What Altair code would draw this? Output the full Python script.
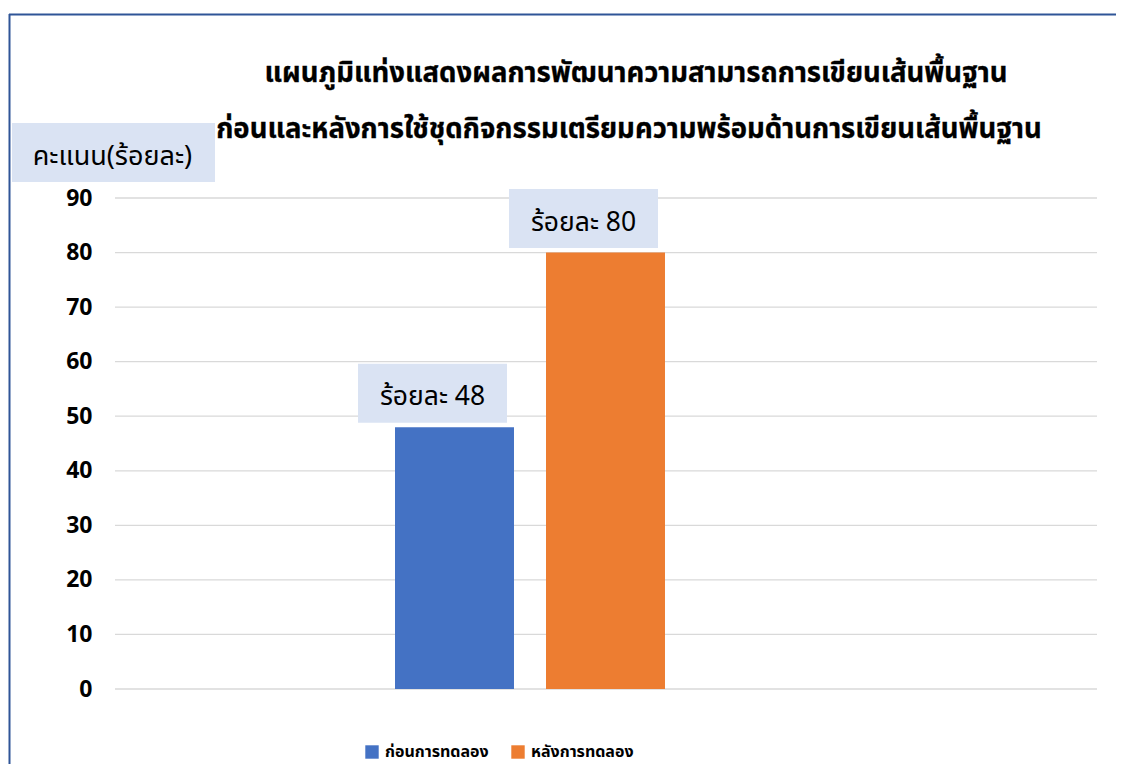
import altair as alt
import pandas as pd

categories = ["ก่อนการทดลอง", "หลังการทดลอง"]
scores = [48, 80]
value_labels = ["ร้อยละ 48", "ร้อยละ 80"]
colors = ["#4472C4", "#ED7D31"]
title_line1 = "แผนภูมิแท่งแสดงผลการพัฒนาความสามารถการเขียนเส้นพื้นฐาน"
title_line2 = "ก่อนและหลังการใช้ชุดกิจกรรมเตรียมความพร้อมด้านการเขียนเส้นพื้นฐาน"
y_title = "คะแนน(ร้อยละ)"
y_ticks = [0, 10, 20, 30, 40, 50, 60, 70, 80, 90]

FONT = "Tahoma, Leelawadee UI, Noto Sans Thai, Noto Sans Thai UI, Loma, Garuda, sans-serif"
NUMFONT = "Noto Sans, DejaVu Sans, sans-serif"
W, H = 982, 491
BOX = "#DAE3F3"

df = pd.DataFrame({"cat": categories, "score": scores, "label": value_labels})
grid_df = pd.DataFrame({"tick": y_ticks})
one = pd.DataFrame({"t": [y_title]})
t1 = pd.DataFrame({"t": [title_line1]})
t2 = pd.DataFrame({"t": [title_line2]})

xscale = alt.Scale(domain=categories, range=[264, 566], paddingInner=0.212, paddingOuter=0.106)
yscale = alt.Scale(domain=[0, 90], nice=False)
yaxis = alt.Axis(
    values=y_ticks,
    title=None,
    grid=False,
    domain=False,
    ticks=False,
    labelPadding=23,
    labelFont=NUMFONT,
    labelFontSize=23,
    labelFontWeight="bold",
    labelColor="#000000",
)

gridlines = alt.Chart(grid_df).mark_rule(color="#D9D9D9", strokeWidth=1.3).encode(
    y=alt.Y("tick:Q", scale=yscale, axis=yaxis),
    x=alt.value(0),
    x2=alt.value(W),
)

base = alt.Chart(df)

bars = base.mark_bar().encode(
    x=alt.X("cat:N", scale=xscale, axis=None, sort=categories),
    y=alt.Y("score:Q", scale=yscale, axis=yaxis),
    color=alt.Color(
        "cat:N",
        scale=alt.Scale(domain=categories, range=colors),
        sort=categories,
        legend=alt.Legend(
            title=None,
            orient="none",
            legendX=249,
            legendY=546,
            direction="horizontal",
            symbolType="square",
            symbolSize=180,
            symbolStrokeWidth=0,
            labelFont=FONT,
            labelFontSize=16,
            labelFontWeight="bold",
            labelColor="#000000",
            columnPadding=21,
            labelOffset=5,
        ),
    ),
)

boxpath = "M-1,-0.396 L1,-0.396 L1,0.396 L-1,0.396 Z"

label_boxes = base.mark_point(
    shape=boxpath, filled=True, color=BOX, opacity=1, size=149 * 149, yOffset=-34, xOffset=-22
).encode(
    x=alt.X("cat:N", scale=xscale, sort=categories, axis=None),
    y=alt.Y("score:Q", scale=yscale, axis=yaxis),
)

label_text = base.mark_text(
    font=FONT, fontSize=26.5, color="#000000", dx=-22, dy=-22, baseline="alphabetic", align="center"
).encode(
    x=alt.X("cat:N", scale=xscale, sort=categories, axis=None),
    y=alt.Y("score:Q", scale=yscale, axis=yaxis),
    text="label:N",
)

ybox = alt.Chart(one).mark_point(
    shape="M-1,-0.29 L1,-0.29 L1,0.29 L-1,0.29 Z", filled=True, color=BOX, opacity=1, size=203 * 203
).encode(x=alt.value(-1.5), y=alt.value(-45.5))

ytext = alt.Chart(one).mark_text(
    font=FONT, fontSize=27, color="#000000", baseline="alphabetic", align="center"
).encode(x=alt.value(-2.5), y=alt.value(-33), text="t:N")

title1 = alt.Chart(t1).mark_text(
    font=FONT, fontSize=27.5, fontWeight="bold", color="#000000", baseline="alphabetic", align="center",
    stroke="#000000", strokeWidth=0.3
).encode(x=alt.value(521), y=alt.value(-116), text="t:N")

title2 = alt.Chart(t2).mark_text(
    font=FONT, fontSize=27.5, fontWeight="bold", color="#000000", baseline="alphabetic", align="center",
    stroke="#000000", strokeWidth=0.3
).encode(x=alt.value(514), y=alt.value(-60), text="t:N")

border_left = alt.Chart(one).mark_rule(color="#2F5597", strokeWidth=2).encode(
    x=alt.value(-105.5), y=alt.value(-184), y2=alt.value(700)
)
border_top = alt.Chart(one).mark_rule(color="#2F5597", strokeWidth=2).encode(
    x=alt.value(-106), x2=alt.value(1100), y=alt.value(-183.5)
)

chart = alt.layer(
    gridlines, bars, label_boxes, label_text, ybox, ytext, title1, title2, border_left, border_top
).properties(
    width=W,
    height=H,
    autosize="none",
    padding={"left": 107, "top": 190, "right": 19, "bottom": 75},
    background="#FFFFFF",
).configure_view(stroke=None)

chart.save("out.html", embed_options={"renderer": "svg", "actions": False})
